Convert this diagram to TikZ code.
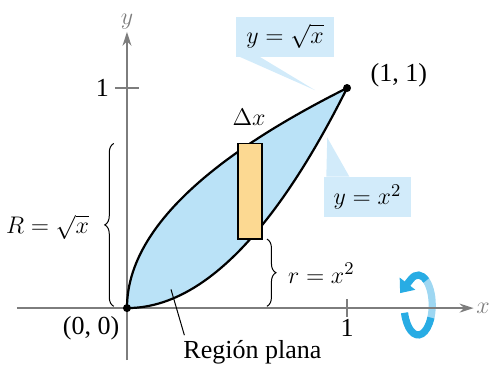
\documentclass[tikz,border=0pt]{standalone}
\usepackage{fontspec}
\setmainfont{Liberation Serif}
\usetikzlibrary{arrows.meta,decorations.pathreplacing}
\definecolor{lensblue}{RGB}{186,226,247}
\definecolor{calloutblue}{RGB}{210,235,250}
\definecolor{diskorange}{RGB}{252,217,146}
\definecolor{turnblue}{RGB}{40,172,228}
\definecolor{turnpale}{RGB}{158,215,242}
\definecolor{axisgray}{RGB}{125,125,125}
\tikzset{axisline/.style={axisgray,line width=.7pt,-{Stealth[length=7pt,width=4.5pt]}},
  bound/.style={line width=1.1pt},
  callout/.style={fill=calloutblue,minimum height=20pt,inner xsep=5pt},
  curly/.style={decorate,decoration={brace,amplitude=4.5pt},line width=.5pt},
  dot/.style={circle,fill,inner sep=0pt,minimum size=4pt},
  turn/.style={line width=3.6pt}}
\begin{document}
\begin{tikzpicture}[x=110pt,y=110pt,font=\fontsize{13}{15}\selectfont]
\useasboundingbox (-.577,-.273) rectangle (1.645,1.4);
% callouts
\node[callout] (sq) at (.718,1.234) {$y=\sqrt{x}$};
\node[callout] (pw) at (1.093,.505) {$y=x^2$};
\coordinate (sqtip) at (.855,.99);
\coordinate (pwtip) at (.91,.775);
\fill[calloutblue] ([xshift=2pt]sq.south west)--([xshift=12pt]sq.south west)--(sqtip)--cycle;
\fill[calloutblue] ([xshift=1.5pt]pw.north west)--([xshift=13pt]pw.north west)--(pwtip)--cycle;
% turn arrow, back half
\draw[turn,turnpale] (1.3784,-.054) arc[start angle=-30,end angle=62,x radius=.064,y radius=.136];
% axes
\draw[axisline] (-.5,0)--(1.575,0) node[right,inner sep=1pt] (xl) {$x$};
\draw[axisline] (0,-.236)--(0,1.255) node[above,inner sep=1pt] (yl) {$y$};
\draw[axisgray,line width=.7pt] (-.055,1)--(.055,1) (1,-.04)--(1,.04);
\node[anchor=east] (y1) at (-.05,1) {1};
\node (x1) at (1,-.09) {1};
% region
\fill[lensblue] plot[domain=0:1,samples=50] ({\x*\x},\x) -- plot[domain=1:0,samples=50] (\x,{\x*\x}) -- cycle;
\draw[bound] plot[domain=0:1,samples=50] ({\x*\x},\x);
\draw[bound] plot[domain=0:1,samples=50] (\x,{\x*\x});
\draw[fill=diskorange,line width=.8pt] (.505,.3136) rectangle (.614,.748);
\node[dot] (O) at (0,0) {};
\node[dot] (P) at (1,1) {};
\node (Olab) at (-.163,-.093) {(0, 0)};
\node[anchor=west] (Plab) at (1.075,1.058) {(1, 1)};
\node (dx) at (.555,.868) {$\Delta x$};
% radii
\draw[curly] (-.06,.008)--(-.06,.748);
\node[anchor=east] (R) at (-.14,.368) {$R=\sqrt{x}$};
\draw[curly] (.636,.3136)--(.636,.008);
\node[anchor=west] (r) at (.70,.16) {$r=x^2$};
\node (reg) at (.57,-.2) {Región plana};
\coordinate (inner) at (.2,.085);
\draw[line width=.5pt] ([xshift=4pt,yshift=-1pt]reg.north west)--(inner);
% turn arrow, front
\draw[turn,turnblue] (1.2612,-.0212) arc[start angle=195,end angle=335,x radius=.064,y radius=.136];
\draw[turn,turnblue,-{Triangle[length=6pt,width=9.5pt]}] (1.3597,.1254) arc[start angle=55,end angle=120,x radius=.064,y radius=.136] -- (1.241,.068);
\end{tikzpicture}
\end{document}
